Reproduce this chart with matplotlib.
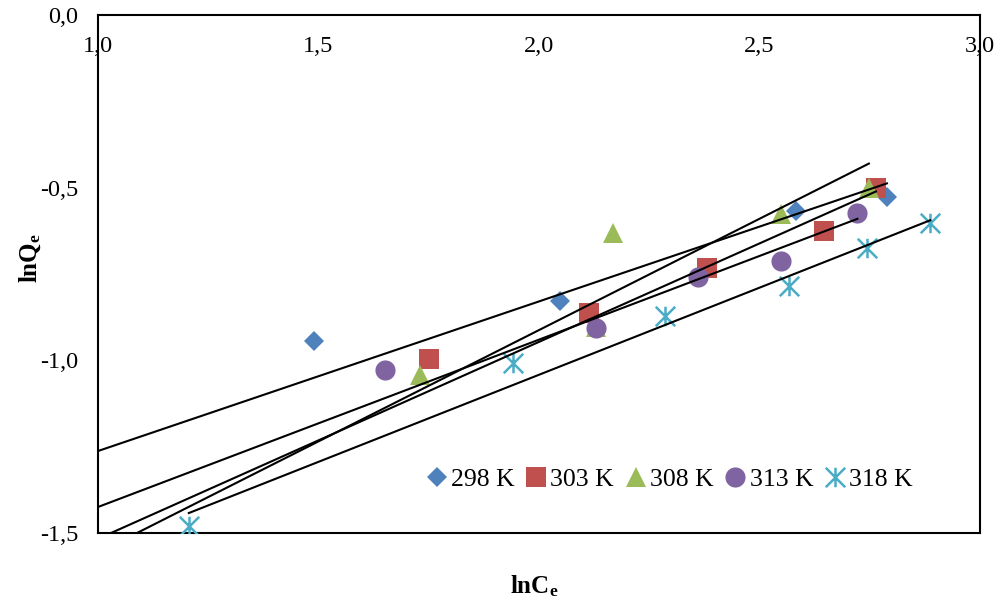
import numpy as np
import matplotlib.pyplot as plt
from matplotlib.path import Path

plt.rcParams['font.family'] = 'serif'
plt.rcParams['font.serif'] = ['Liberation Serif', 'DejaVu Serif']
plt.rcParams['mathtext.fontset'] = 'custom'
plt.rcParams['mathtext.rm'] = 'Liberation Serif'
plt.rcParams['mathtext.it'] = 'Liberation Serif:italic'
plt.rcParams['mathtext.bf'] = 'Liberation Serif:bold'

# ---- Datos: ln Ce vs ln Qe a cada temperatura ----
x_298 = [1.490, 2.048, 2.583, 2.789]
y_298 = [-0.944, -0.828, -0.568, -0.527]

x_303 = [1.751, 2.113, 2.381, 2.646, 2.764]
y_303 = [-0.996, -0.863, -0.733, -0.625, -0.501]

x_308 = [1.731, 2.129, 2.168, 2.548, 2.748]
y_308 = [-1.043, -0.903, -0.630, -0.575, -0.501]

x_313 = [1.651, 2.129, 2.361, 2.549, 2.722]
y_313 = [-1.028, -0.906, -0.759, -0.712, -0.574]

x_318 = [1.206, 1.941, 2.286, 2.567, 2.743, 2.887]
y_318 = [-1.480, -1.008, -0.872, -0.785, -0.676, -0.603]

etiquetas = ["298 K", "303 K", "308 K", "313 K", "318 K"]

# rectas de tendencia (pendiente, ordenada) y tramo en x
pendientes = [0.4332, 0.5702, 0.6446, 0.4846, 0.5043]
ordenadas = [-1.6958, -2.0870, -2.2016, -1.9093, -2.0504]
tramo_ini = [1.0, 1.0, 1.0, 1.0, 1.206]

xticks = [1.0, 1.5, 2.0, 2.5, 3.0]
xtick_labels = ["1,0", "1,5", "2,0", "2,5", "3,0"]
yticks = [0.0, -0.5, -1.0, -1.5]
ytick_labels = ["0,0", "-0,5", "-1,0", "-1,5"]

# asterisco tipo Excel: aspa + barra vertical
asterisco = Path([(-1, -1), (1, 1), (-1, 1), (1, -1), (0, -1), (0, 1)],
                 [Path.MOVETO, Path.LINETO, Path.MOVETO, Path.LINETO,
                  Path.MOVETO, Path.LINETO])

series = [
    (x_298, y_298, "D", "#4F81BD", 10.5),
    (x_303, y_303, "s", "#C0504D", 14),
    (x_308, y_308, "^", "#9BBB59", 14),
    (x_313, y_313, "o", "#8064A2", 14.5),
    (x_318, y_318, asterisco, "#4BACC6", 14),
]

fig = plt.figure(figsize=(10.01, 6.06), dpi=100)
ax = fig.add_axes([98 / 1001, 1 - 533 / 606, 882 / 1001, 518 / 606])

for (xs, ys, mk, col, ms), lab in zip(series, etiquetas):
    if mk is asterisco:
        ax.plot(xs, ys, linestyle="none", marker=mk, markersize=ms,
                markeredgecolor=col, markerfacecolor="none",
                markeredgewidth=1.8, label=lab, zorder=3)
    else:
        ax.plot(xs, ys, linestyle="none", marker=mk, markersize=ms,
                color=col, markeredgewidth=0, label=lab, zorder=3)

for (xs, ys, _, _, _), m, b, x0 in zip(series, pendientes, ordenadas, tramo_ini):
    xx = np.array([x0, max(xs)])
    ax.plot(xx, m * xx + b, color="black", linewidth=1.5, zorder=4)

ax.set_xlim(1.0, 3.0)
ax.set_ylim(-1.5, 0.0)
ax.set_xticks(xticks)
ax.set_xticklabels(xtick_labels)
ax.set_yticks(yticks)
ax.set_yticklabels(ytick_labels)
ax.xaxis.set_ticks_position("top")
ax.tick_params(axis="x", length=0, pad=-30.5, labelsize=17.5)
ax.tick_params(axis="y", length=0, pad=14, labelsize=17.5)
for sp in ax.spines.values():
    sp.set_linewidth(1.5)

ax.legend(loc="center", bbox_to_anchor=(0.648, 0.104), ncol=5, frameon=False,
          fontsize=18.5, handlelength=0.8, handletextpad=0.15,
          columnspacing=0.45, borderaxespad=0)

fig.text(30 / 1001, 1 - 258 / 606, r"$\mathbf{lnQ_e}$", rotation=90,
         ha="center", va="center", fontsize=18)
fig.text(534 / 1001, 1 - 586 / 606, r"$\mathbf{lnC_e}$",
         ha="center", va="center", fontsize=18)

fig.savefig("out.png", dpi=100)
